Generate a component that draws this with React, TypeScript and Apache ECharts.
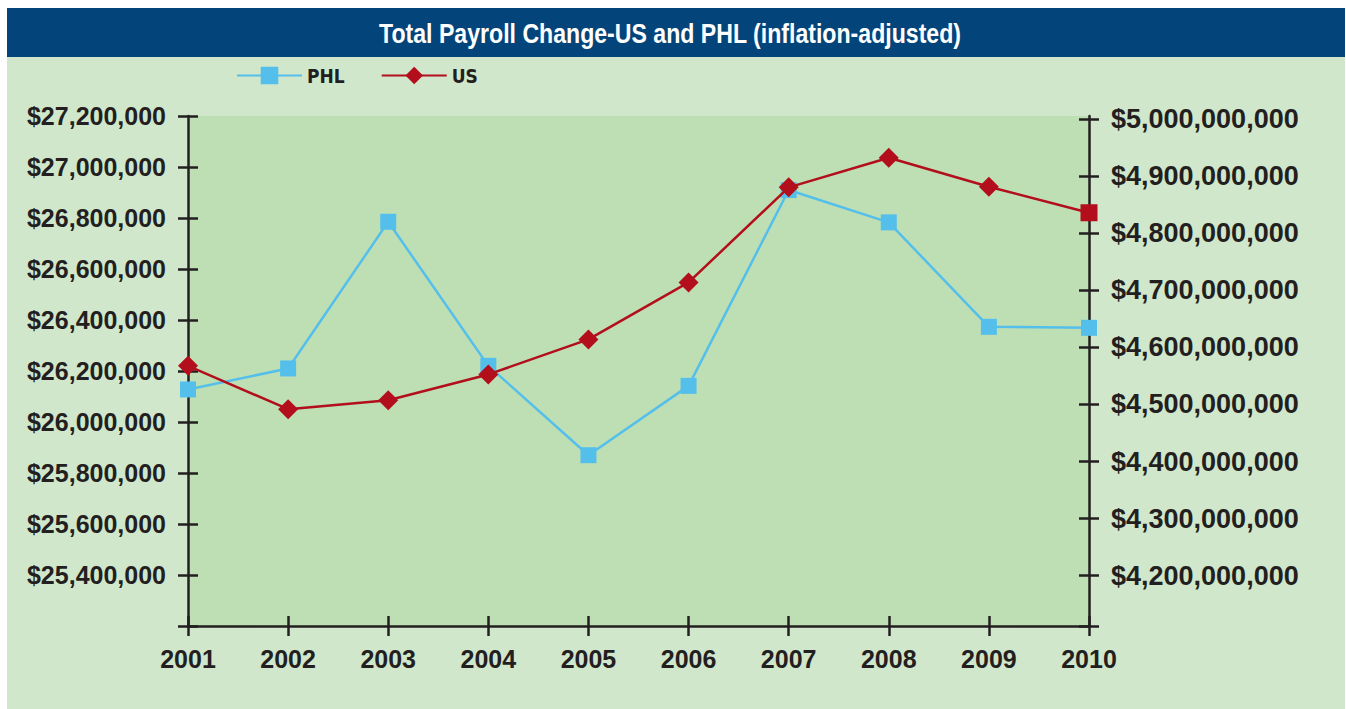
import React, { useEffect, useRef } from "react";
import * as echarts from "echarts";

const titleText = "Total Payroll Change-US and PHL (inflation-adjusted)";
const years = ["2001", "2002", "2003", "2004", "2005", "2006", "2007", "2008", "2009", "2010"];
const phlValues = [26127600, 26210000, 26785200, 26220200, 25869800, 26141700, 26909600, 26782900, 26373200, 26369300];
const usValues = [4567500000, 4491700000, 4507400000, 4552500000, 4613800000, 4713600000, 4880100000, 4931900000, 4881100000, 4835600000];
const leftMin = 25200000;
const leftMax = 27200000;
const leftStep = 200000;
const rightMin = 4112000000;
const rightMax = 5005000000;
const rightTickLabels = [4200000000, 4300000000, 4400000000, 4500000000, 4600000000, 4700000000, 4800000000, 4900000000, 5000000000];

const INK = "#231f20";
const PHL_COLOR = "#55bfec";
const US_COLOR = "#b20e1c";
const NARROW = '"Liberation Sans Narrow", "DejaVu Sans Condensed", sans-serif';
const SANS = '"Liberation Sans", Arial, sans-serif';

const money = (v: number) => "$" + Math.round(v).toLocaleString("en-US");

export default function App() {
  const ref = useRef<HTMLDivElement>(null);
  useEffect(() => {
    if (!ref.current) return;
    const chart = echarts.init(ref.current, null, { renderer: "svg" });
    const tickStyle = { color: INK, width: 2.5 };
    const option: any = {
      animation: false,
      backgroundColor: "#ffffff",
      graphic: [
        { type: "rect", z: -10, shape: { x: 7, y: 8, width: 1338, height: 701 }, style: { fill: "#d1e7cb" } },
        { type: "rect", z: -9, shape: { x: 7, y: 8, width: 1338, height: 49 }, style: { fill: "#03457a" } },
        {
          type: "text",
          z: -8,
          x: 670,
          y: 33,
          scaleX: 0.826,
          style: {
            text: titleText,
            fill: "#ffffff",
            font: `bold 28px ${SANS}`,
            textAlign: "center",
            textVerticalAlign: "middle",
          },
        },
      ],
      legend: {
        left: 236,
        top: 66,
        padding: 0,
        itemWidth: 65,
        itemHeight: 22,
        itemGap: 36,
        data: ["PHL", "US"],
        textStyle: { color: INK, fontFamily: NARROW, fontWeight: "bold", fontSize: 19 },
      },
      grid: {
        left: 188,
        right: 257,
        top: 116,
        bottom: 83,
        show: true,
        backgroundColor: "#bddfb3",
        borderWidth: 0,
        outerBoundsMode: "none",
      },
      xAxis: [
        {
          type: "category",
          data: years,
          boundaryGap: false,
          position: "bottom",
          axisLine: { onZero: false, lineStyle: { color: INK, width: 2.5 } },
          axisTick: { show: true, inside: false, length: 10, lineStyle: tickStyle },
          axisLabel: { color: INK, fontFamily: SANS, fontWeight: "bold", fontSize: 25, margin: 20 },
          splitLine: { show: false },
        },
        {
          type: "category",
          data: years,
          boundaryGap: false,
          position: "bottom",
          axisLine: { show: false, onZero: false },
          axisTick: { show: true, inside: true, length: 10, lineStyle: tickStyle },
          axisLabel: { show: false },
          splitLine: { show: false },
        },
      ],
      yAxis: [
        {
          type: "value",
          position: "left",
          min: leftMin,
          max: leftMax,
          interval: leftStep,
          axisLine: { show: true, onZero: false, lineStyle: { color: INK, width: 2.5 } },
          axisTick: { show: true, inside: false, length: 10, lineStyle: tickStyle },
          axisLabel: {
            color: INK,
            fontFamily: SANS,
            fontWeight: "bold",
            fontSize: 25,
            margin: 22,
            formatter: (v: number) => (v === leftMin ? "" : money(v)),
          },
          splitLine: { show: false },
        },
        {
          type: "value",
          position: "right",
          min: rightMin,
          max: rightMax,
          axisLine: { show: true, onZero: false, lineStyle: { color: INK, width: 2.5 } },
          axisTick: {
            show: true,
            inside: false,
            length: 10,
            lineStyle: tickStyle,
            customValues: [rightMin, ...rightTickLabels],
          },
          axisLabel: {
            color: INK,
            fontFamily: SANS,
            fontWeight: "bold",
            fontSize: 27,
            margin: 22,
            customValues: rightTickLabels,
            formatter: (v: number) => money(v),
          },
          splitLine: { show: false },
        },
        {
          type: "value",
          position: "left",
          min: leftMin,
          max: leftMax,
          interval: leftStep,
          axisLine: { show: false, onZero: false },
          axisTick: { show: true, inside: true, length: 10, lineStyle: tickStyle },
          axisLabel: { show: false },
          splitLine: { show: false },
        },
        {
          type: "value",
          position: "right",
          min: rightMin,
          max: rightMax,
          axisLine: { show: false, onZero: false },
          axisTick: {
            show: true,
            inside: true,
            length: 10,
            lineStyle: tickStyle,
            customValues: [rightMin, ...rightTickLabels],
          },
          axisLabel: { show: false, customValues: rightTickLabels },
          splitLine: { show: false },
        },
      ],
      series: [
        {
          name: "PHL",
          type: "line",
          xAxisIndex: 0,
          yAxisIndex: 0,
          data: phlValues,
          symbol: "rect",
          symbolSize: 16,
          showAllSymbol: true,
          lineStyle: { color: PHL_COLOR, width: 2.5 },
          itemStyle: { color: PHL_COLOR },
          z: 3,
        },
        {
          name: "US",
          type: "line",
          xAxisIndex: 0,
          yAxisIndex: 1,
          data: usValues.map((v, i) =>
            i === usValues.length - 1 ? { value: v, symbol: "rect", symbolSize: 17 } : v
          ),
          symbol: "diamond",
          symbolSize: 20,
          showAllSymbol: true,
          lineStyle: { color: US_COLOR, width: 2.5 },
          itemStyle: { color: US_COLOR },
          z: 4,
        },
      ],
    };
    chart.setOption(option);
    return () => chart.dispose();
  }, []);
  return <div ref={ref} style={{ position: "fixed", left: 0, top: 0, width: 1346, height: 709 }} />;
}
